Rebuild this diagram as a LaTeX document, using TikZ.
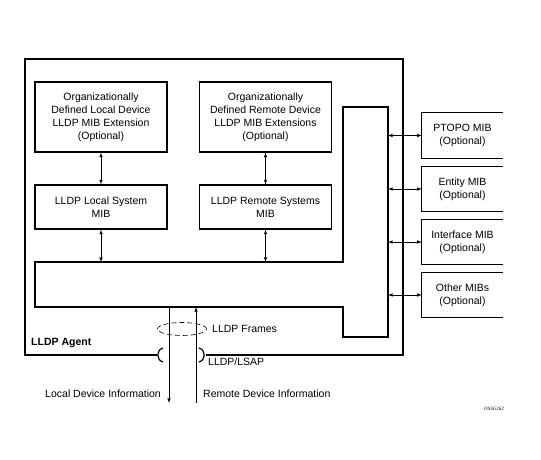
\documentclass[tikz,border=0pt]{standalone}
\usepackage{fontspec}
\setmainfont{Liberation Sans}
\newfontfamily\policeref{Liberation Serif}

\begin{document}
\begin{tikzpicture}[x=1pt,y=-1pt]
% Styles (MODIFIABLES)
\tikzstyle{fleche}=[->,>=latex,line width=0.6pt]
\tikzstyle{doublefleche}=[<->,>=latex,line width=0.6pt]
\tikzstyle{trait}=[line width=1.2pt]
\tikzstyle{texte}=[font=\fontsize{10.5}{13}\selectfont,inner sep=0pt]
\tikzstyle{boite}=[texte,draw,line width=1.2pt,align=center,minimum width=132pt]
\tikzstyle{boiteouverte}=[texte,align=center,minimum width=81pt,minimum height=45pt]
% Dimensions (MODIFIABLES)
\def\HauteurOrg{70pt}
\def\HauteurSys{44pt}
% Cadre
\useasboundingbox (0,0) rectangle (541,460);
% Noeuds (MODIFIABLES)
\node[boite,minimum height=\HauteurOrg] (OrgLocal) at (101,117) {Organizationally\\Defined Local Device\\LLDP MIB Extension\\(Optional)};
\node[boite,minimum height=\HauteurOrg] (OrgDistant) at (265.5,117) {Organizationally\\Defined Remote Device\\LLDP MIB Extensions\\(Optional)};
\node[boite,minimum height=\HauteurSys] (SysLocal) at (101,207) {LLDP Local System\\MIB};
\node[boite,minimum height=\HauteurSys] (SysDistant) at (265.5,207) {LLDP Remote Systems\\MIB};
\node[boiteouverte] (Ptopo) at (462.5,135.5) {PTOPO MIB\\(Optional)};
\node[boiteouverte] (Entite) at (462.5,189) {Entity MIB\\(Optional)};
\node[boiteouverte] (Interface) at (462.5,242) {Interface MIB\\(Optional)};
\node[boiteouverte] (Autres) at (462.5,295) {Other MIBs\\(Optional)};
\foreach \n in {Ptopo,Entite,Interface,Autres}
  \draw[trait] (\n.north east) -- (\n.north west) -- (\n.south west) -- (\n.south east);
% Forme en L (NON MODIFIABLE)
\coordinate (Lhg) at (35,262);
\coordinate (Lcoude) at (343,262);
\coordinate (Lhautg) at (343,107);
\coordinate (Lhautd) at (388,107);
\coordinate (Lbasd) at (388,337);
\coordinate (Lbasg) at (343,337);
\coordinate (Lmarche) at (343,307);
\coordinate (Lbg) at (35,307);
\draw[trait] (Lhg) -- (Lcoude) -- (Lhautg) -- (Lhautd) -- (Lbasd) -- (Lbasg) -- (Lmarche) -- (Lbg) -- cycle;
% Agent
\draw[trait] (157,355) -- (25,355) -- (25,59) -- (403,59) -- (403,355) -- (206,355);
\draw[trait] (163,348) .. controls (156,350) and (156,360) .. (163,362);
\draw[trait] (199,348) .. controls (206,350) and (206,360) .. (199,362);
\draw[dash pattern=on 5pt off 3pt,line width=0.6pt] (182,329) ellipse (24.5pt and 6.5pt);
% Arcs
\draw[doublefleche] (OrgLocal) -- (SysLocal);
\draw[doublefleche] (OrgDistant) -- (SysDistant);
\draw[doublefleche] (SysLocal) -- (SysLocal |- Lhg);
\draw[doublefleche] (SysDistant) -- (SysDistant |- Lhg);
\foreach \n in {Ptopo,Entite,Interface,Autres}
  \draw[doublefleche] (Lhautd |- \n.west) -- (\n.west);
\coordinate (LocalHaut) at (169,307);
\coordinate (LocalBas) at (169,403);
\coordinate (DistantBas) at (196,403);
\coordinate (DistantHaut) at (196,307);
\draw[fleche] (LocalHaut) -- (LocalBas);
\draw[fleche] (DistantBas) -- (DistantHaut);
% Textes
\node[texte,anchor=west] (Trames) at (212,329) {LLDP Frames};
\node[texte,anchor=west,font=\fontsize{10.5}{13}\selectfont\bfseries] (Agent) at (31,343) {LLDP Agent};
\node[texte,anchor=west] (Lsap) at (208,362) {LLDP/LSAP};
\node[texte,anchor=east] (InfoLocale) at (161,394) {Local Device Information};
\node[texte,anchor=west] (InfoDistante) at (203,394) {Remote Device Information};
\node[inner sep=0pt,font=\policeref\itshape\fontsize{5}{6}\selectfont] (Ref) at (494,409) {OSSG262};
\end{tikzpicture}
\end{document}
